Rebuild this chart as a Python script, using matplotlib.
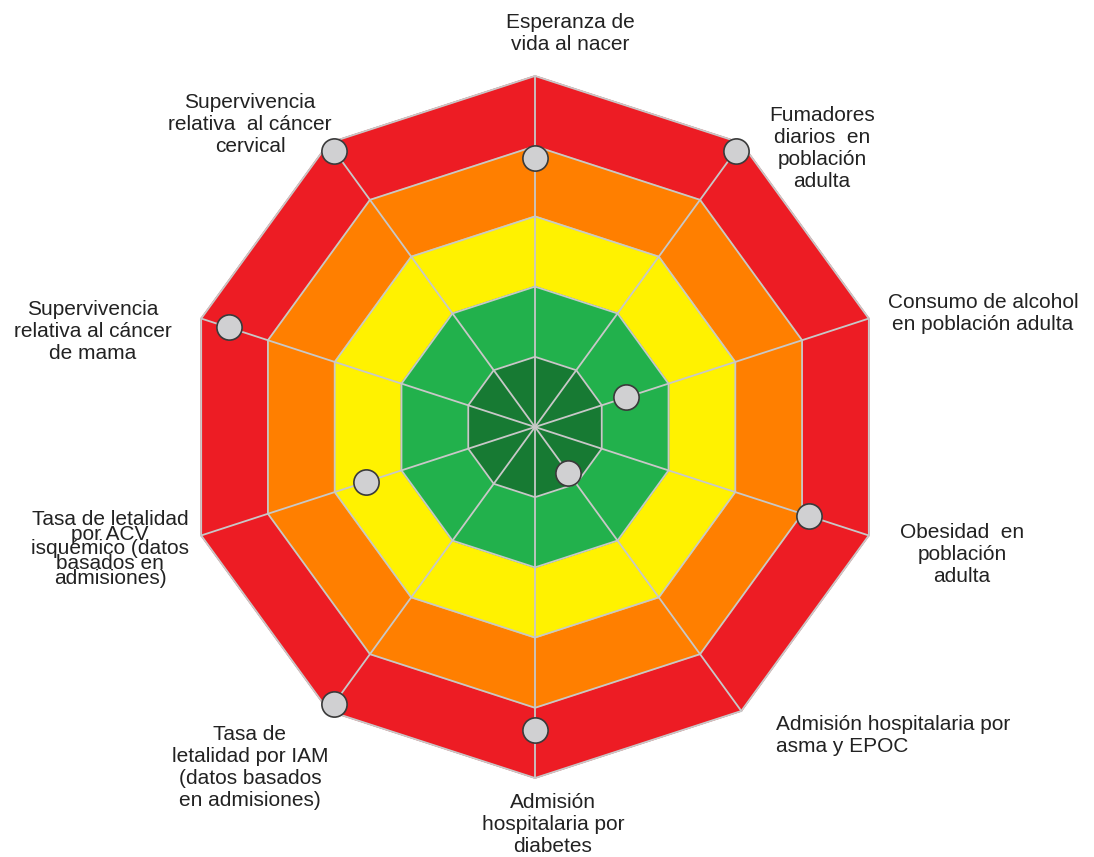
import numpy as np
import matplotlib.pyplot as plt

# Indicadores (en orden horario desde arriba) y valores en escala 0-5
labels = [
    "Esperanza de\nvida al nacer",
    "Fumadores\ndiarios  en\npoblación\nadulta",
    "Consumo de alcohol\nen población adulta",
    "Obesidad  en\npoblación\nadulta",
    "Admisión hospitalaria por\nasma y EPOC",
    "Admisión\nhospitalaria por\ndiabetes",
    "Tasa de\nletalidad por IAM\n(datos basados\nen admisiones)",
    "Tasa de letalidad\npor ACV\nisquémico (datos\nbasados en\nadmisiones)",
    "Supervivencia\nrelativa al cáncer\nde mama",
    "Supervivencia\nrelativa  al cáncer\ncervical",
]
values = [3.83, 4.86, 1.36, 4.1, 0.81, 4.32, 4.87, 2.53, 4.59, 4.86]

# Anillos (de fuera hacia dentro)
ring_levels = [5, 4, 3, 2, 1]
ring_colors = ["#ed1c24", "#ff7f00", "#fff200", "#22b14c", "#177a33"]

n = len(labels)
angles = np.pi / 2 - np.arange(n) * 2 * np.pi / n

fig = plt.figure(figsize=(10.94, 8.57), dpi=100)
ax = fig.add_axes([0, 0, 1, 1])
scale = 70.2
ax.set_xlim(-535 / scale, (1094 - 535) / scale)
ax.set_ylim(-430 / scale, 427 / scale)
ax.axis("off")

grid = "#c8c8c8"
for lev, col in zip(ring_levels, ring_colors):
    xs = lev * np.cos(angles)
    ys = lev * np.sin(angles)
    ax.fill(xs, ys, color=col, zorder=1)
for lev in ring_levels:
    xs = np.append(lev * np.cos(angles), lev * np.cos(angles[0]))
    ys = np.append(lev * np.sin(angles), lev * np.sin(angles[0]))
    ax.plot(xs, ys, color=grid, lw=1.3, zorder=2)
for a in angles:
    ax.plot([0, 5 * np.cos(a)], [0, 5 * np.sin(a)], color=grid, lw=1.3, zorder=2)

vals = np.array(values)
ax.scatter(vals * np.cos(angles), vals * np.sin(angles), s=330,
           facecolor="#d0d0d2", edgecolor="#3a3a3a", linewidth=1.2, zorder=3)

# posiciones de las etiquetas (pixeles) y alineacion
label_pos = [
    (570, 33, "center"),
    (822, 148, "center"),
    (983, 313, "center"),
    (962, 555, "center"),
    (776, 735, "left"),
    (553, 824, "center"),
    (250, 768, "center"),
    (110, 549, "center"),
    (93, 331, "center"),
    (250, 124, "center"),
]
for i, (lab, (px, py, ha)) in enumerate(zip(labels, label_pos)):
    x = px / scale - 535 / scale
    y = 427 / scale - py / scale
    ls = 0.72 if i == 7 else 1.2
    ax.text(x, y, lab, ha=ha, va="center", multialignment="center" if ha == "center" else "left",
            fontsize=15, family="Liberation Sans", color="#222222", linespacing=ls)

fig.savefig("out.png", dpi=100)
